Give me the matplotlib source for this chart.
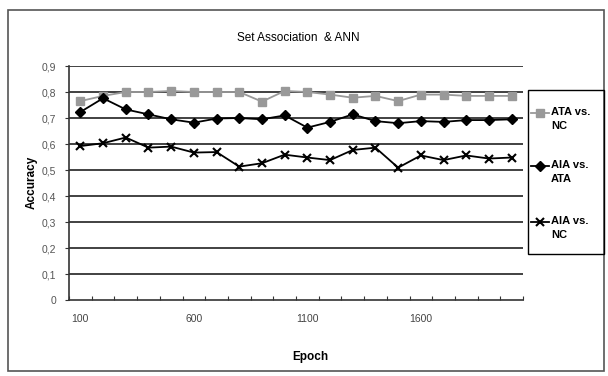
import numpy as np
import matplotlib.pyplot as plt
from matplotlib.patches import Rectangle
from matplotlib.lines import Line2D

plt.rcParams['font.family'] = ['Liberation Sans', 'DejaVu Sans']

# epochs 100..2000
epochs = [100, 200, 300, 400, 500, 600, 700, 800, 900, 1000,
          1100, 1200, 1300, 1400, 1500, 1600, 1700, 1800, 1900, 2000]
ata_nc = [0.765, 0.785, 0.80, 0.80, 0.804, 0.80, 0.80, 0.80, 0.763, 0.804,
          0.80, 0.79, 0.778, 0.785, 0.765, 0.79, 0.79, 0.785, 0.785, 0.785]
aia_ata = [0.723, 0.776, 0.733, 0.714, 0.695, 0.682, 0.698, 0.70, 0.695, 0.71,
           0.663, 0.685, 0.714, 0.688, 0.68, 0.688, 0.685, 0.692, 0.692, 0.695]
aia_nc = [0.592, 0.603, 0.625, 0.586, 0.59, 0.567, 0.569, 0.513, 0.526, 0.559,
          0.548, 0.538, 0.577, 0.586, 0.509, 0.556, 0.538, 0.556, 0.544, 0.548]
series_names = ['ATA vs.\nNC', 'AIA vs.\nATA', 'AIA vs.\nNC']
yticks = [0, 0.1, 0.2, 0.3, 0.4, 0.5, 0.6, 0.7, 0.8, 0.9]
ylabels = ['0', '0,1', '0,2', '0,3', '0,4', '0,5', '0,6', '0,7', '0,8', '0,9']

W, H = 608, 376
fig = plt.figure(figsize=(W / 100, H / 100), dpi=100)

def fx(px):
    return px / W

def fy(py):
    # pixel rows counted from the top
    return 1 - py / H

def px_rect(x0, y0, x1, y1, **kw):
    return Rectangle((fx(x0), fy(y1)), (x1 - x0) / W, (y1 - y0) / H,
                     transform=fig.transFigure, fill=False, **kw)

# chart area frame and legend frame
fig.patches.append(px_rect(8, 10, 604, 371, edgecolor='#555555', lw=1.2))
fig.patches.append(px_rect(528, 90, 604, 254, edgecolor='black', lw=1.0))

ax = fig.add_axes([fx(69), fy(300), 454 / W, 234 / H])
x = np.arange(len(epochs))

for v in yticks[1:]:
    ax.axhline(v, color='#333333', lw=1.3, zorder=1)

styles = [dict(color='#999999', marker='s', ms=5.5, lw=1.3),
          dict(color='black', marker='D', ms=5, lw=1.3),
          dict(color='black', marker='x', ms=6, mew=1.5, lw=1.3)]
lines = []
for vals, st in zip([ata_nc, aia_ata, aia_nc], styles):
    lines += ax.plot(x, vals, zorder=3, **st)

ax.set_xlim(-0.5, len(epochs) - 0.5)
ax.set_ylim(0, 0.9)
for s in ['top', 'right']:
    ax.spines[s].set_visible(False)
for s in ['left', 'bottom']:
    ax.spines[s].set_color('#333333')
    ax.spines[s].set_linewidth(1.2)

# tick marks between categories, labels every 5 epochs
ax.set_xticks(np.arange(-0.5, len(epochs), 1))
ax.set_xticklabels([])
ax.tick_params(axis='x', which='major', direction='in', length=3,
               color='#333333')
ax.set_xticks(x[::5], minor=True)
ax.set_xticklabels([str(e) for e in epochs[::5]], minor=True)
ax.tick_params(axis='x', which='minor', length=0, pad=10, labelsize=7.5,
               labelcolor='#444444')

ax.set_yticks(yticks)
ax.set_yticklabels(ylabels)
ax.tick_params(axis='y', direction='out', length=3, color='#333333',
               labelsize=7.5, labelcolor='#555555', pad=6)

fig.text(fx(298), fy(38), 'Set Association  & ANN', ha='center',
         va='center', fontsize=8.5)
fig.text(fx(310), fy(357), 'Epoch', ha='center', va='center',
         fontsize=8.5, fontweight='bold')
fig.text(fx(32), fy(182), 'Accuracy', ha='center', va='center',
         fontsize=8.5, fontweight='bold', rotation=90)

# legend: key on the first line of each two-line label
for name, ln, y0 in zip(series_names, lines, [113, 166, 222]):
    key = Line2D([fx(531), fx(549)], [fy(y0), fy(y0)],
                 transform=fig.transFigure, color=ln.get_color(),
                 lw=ln.get_linewidth(), marker=ln.get_marker(),
                 ms=ln.get_markersize(), mew=ln.get_markeredgewidth(),
                 markevery=[1])
    key.set_xdata([fx(531), fx(540), fx(549)])
    key.set_ydata([fy(y0)] * 3)
    fig.lines.append(key)
    fig.text(fx(551), fy(y0 - 6), name, ha='left', va='top', fontsize=8,
             fontweight='bold', linespacing=1.55)

fig.savefig('out.png', dpi=100)
